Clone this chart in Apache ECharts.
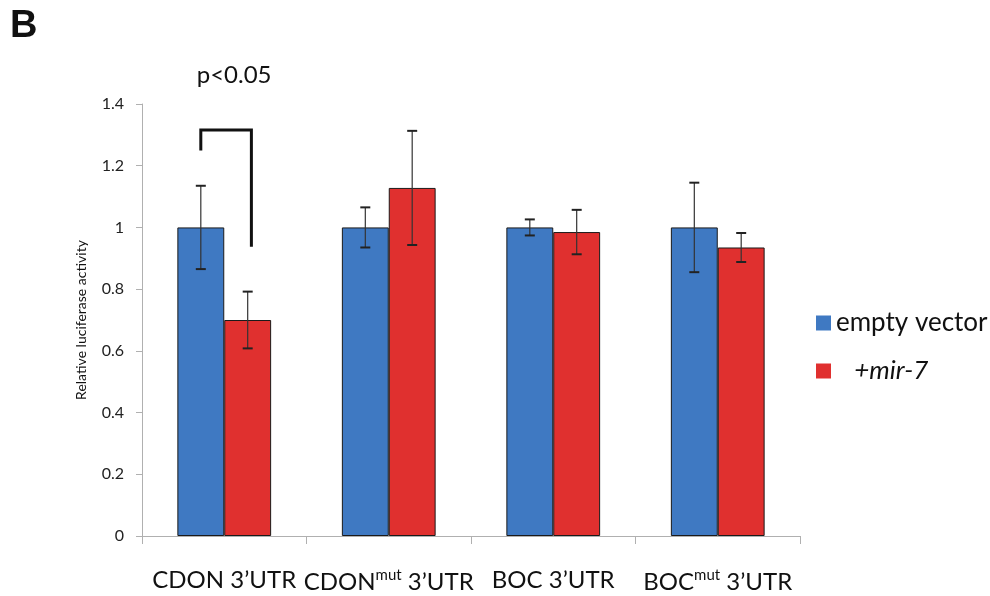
<!DOCTYPE html>
<html><head><meta charset="utf-8">
<script src="https://cdn.jsdelivr.net/npm/echarts@6/dist/echarts.min.js"></script>
<style>html,body{margin:0;padding:0;background:#fff}#c{width:990px;height:596px}</style>
</head><body><div id="c"></div>
<script>
var categories = ['CDON 3\u2019UTR', 'CDON{s|mut} 3\u2019UTR', 'BOC 3\u2019UTR', 'BOC{s|mut} 3\u2019UTR'];
var seriesNames = ['empty vector', '+mir-7'];
var emptyVector = [1, 1, 1, 1];
var mir7 = [0.70, 1.128, 0.985, 0.935];
var emptyErr = [0.135, 0.065, 0.026, 0.145];
var mir7Err = [0.092, 0.185, 0.072, 0.047];
var yTicks = {min: 0, max: 1.4, interval: 0.2};
var sigLabel = 'p<0.05';
var bracket = {cat: 0, leftY: 1.249, topY: 1.316, rightY: 0.937};

var BLUE = '#3f79c2', RED = '#e0302f';
var FONT = 'Lato, "Open Sans", sans-serif';
var OFF = 0.1425;

function errData(vals, errs) {
  return vals.map(function (v, i) { return [i, v - errs[i], v + errs[i]]; });
}
function errRender(sign) {
  return function (params, api) {
    var bw = api.size([1, 0])[0];
    var lo = api.coord([api.value(0), api.value(1)]);
    var hi = api.coord([api.value(0), api.value(2)]);
    var x = lo[0] + sign * OFF * bw;
    var st = {stroke: '#333', lineWidth: 1.2};
    return {type: 'group', children: [
      {type: 'line', shape: {x1: x, y1: lo[1], x2: x, y2: hi[1]}, style: st},
      {type: 'line', shape: {x1: x - 5, y1: lo[1], x2: x + 5, y2: lo[1]}, style: {stroke: '#222', lineWidth: 2}},
      {type: 'line', shape: {x1: x - 5, y1: hi[1], x2: x + 5, y2: hi[1]}, style: {stroke: '#222', lineWidth: 2}}
    ]};
  };
}

var chart = echarts.init(document.getElementById('c'));
chart.setOption({
  animation: false,
  backgroundColor: '#fff',
  textStyle: {fontFamily: FONT},
  grid: {left: 142, right: 190, top: 104, bottom: 60},
  legend: {
    orient: 'vertical', left: 811, top: 305, itemGap: 22,
    icon: 'rect', itemWidth: 15, itemHeight: 15,
    itemStyle: {borderWidth: 0},
    data: seriesNames,
    formatter: function (n) { return n === '+mir-7' ? '{i|   ' + n + '}' : '{n|' + n + '}'; },
    textStyle: {
      rich: {
        n: {fontSize: 26, color: '#111', fontFamily: FONT},
        i: {fontSize: 26, color: '#111', fontStyle: 'italic', fontFamily: FONT}
      }
    }
  },
  xAxis: {
    type: 'category', data: categories,
    axisLine: {lineStyle: {color: '#b0b0b0', width: 1}},
    axisTick: {show: true, alignWithLabel: false, length: 8, lineStyle: {color: '#b0b0b0'}},
    axisLabel: {
      margin: 32, interval: 0, color: '#111', fontSize: 24, fontFamily: FONT,
      rich: {s: {fontSize: 15, verticalAlign: 'top', padding: [0, 0, 14, 0], color: '#111', fontFamily: FONT}}
    }
  },
  yAxis: {
    type: 'value', min: yTicks.min, max: yTicks.max, interval: yTicks.interval,
    name: 'Relative luciferase activity', nameLocation: 'middle', nameGap: 54,
    nameTextStyle: {fontSize: 14, color: '#111', fontFamily: FONT},
    splitLine: {show: false},
    axisLine: {show: true, lineStyle: {color: '#b0b0b0'}},
    axisTick: {show: true, length: 6, lineStyle: {color: '#b0b0b0'}},
    axisLabel: {fontSize: 16, color: '#222', margin: 18, fontFamily: FONT}
  },
  series: [
    {name: seriesNames[0], type: 'bar', data: emptyVector, barGap: 0, barCategoryGap: '43%',
     itemStyle: {color: BLUE, borderColor: '#1a1a1a', borderWidth: 1}},
    {name: seriesNames[1], type: 'bar', data: mir7, barGap: 0, barCategoryGap: '43%',
     itemStyle: {color: RED, borderColor: '#1a1a1a', borderWidth: 1}},
    {type: 'custom', name: 'errA', data: errData(emptyVector, emptyErr), encode: {x: 0, y: [1, 2]},
     renderItem: errRender(-1), z: 5},
    {type: 'custom', name: 'errB', data: errData(mir7, mir7Err), encode: {x: 0, y: [1, 2]},
     renderItem: errRender(1), z: 5},
    {type: 'custom', name: 'bracket', data: [[bracket.cat, bracket.leftY, bracket.topY, bracket.rightY]],
     encode: {x: 0, y: [1, 2, 3]}, z: 6,
     renderItem: function (params, api) {
       var bw = api.size([1, 0])[0];
       var a = api.coord([api.value(0), api.value(1)]);
       var t = api.coord([api.value(0), api.value(2)]);
       var b = api.coord([api.value(0), api.value(3)]);
       var xl = a[0] - OFF * bw, xr = a[0] + 0.165 * bw;
       return {type: 'group', children: [
         {type: 'polyline', shape: {points: [[xl, a[1]], [xl, t[1]], [xr, t[1]], [xr, b[1]]]},
          style: {stroke: '#111', lineWidth: 3, fill: null}},
         {type: 'text', style: {x: (xl + xr) / 2 + 8, y: t[1] - 55, text: sigLabel, align: 'center', verticalAlign: 'middle',
          fontSize: 24, fill: '#111', fontFamily: FONT}}
       ]};
     }}
  ],
  graphic: [
    {type: 'text', left: 10, top: 8, style: {text: 'B', fontSize: 38, fontWeight: 'bold', fill: '#111', fontFamily: 'Liberation Sans, Arial, sans-serif'}}
  ]
});
</script></body></html>
